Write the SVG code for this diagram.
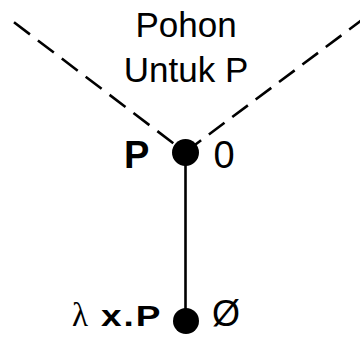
<svg xmlns="http://www.w3.org/2000/svg" width="360" height="342" viewBox="0 0 360 342">
  <style>
    .bg { fill: #ffffff; }
    .dash { fill: none; stroke: #000; stroke-width: 2.6; stroke-dasharray: 20 10; }
    .edge { fill: none; stroke: #000; stroke-width: 2.6; }
    .dot { fill: #000; }
    .lbl { font-family: "Liberation Sans", Arial, sans-serif; fill: #000; }
    .greek { font-family: "Liberation Serif", "Times New Roman", serif; fill: #000; }
    .b { font-weight: bold; }
  </style>
  <rect class="bg" x="0" y="0" width="360" height="342"/>

  <!-- title -->
  <g id="title" class="lbl" font-size="35" text-anchor="middle">
    <text x="186" y="37">Pohon</text>
    <text x="186" y="82">Untuk P</text>
  </g>

  <!-- connectors -->
  <g id="connectors">
    <path class="dash" d="M14 22.3 L185.5 152.5"/>
    <path class="dash" d="M185.5 152 L362 20" style="stroke-dasharray:19.5 9.7"/>
    <path class="edge" d="M185.5 152.5 L185.5 321"/>
  </g>

  <!-- root node -->
  <g id="node-root">
    <circle class="dot" cx="185.5" cy="152.5" r="13.5"/>
    <text class="lbl b" x="124" y="168" font-size="38">P</text>
    <text class="lbl" x="213.5" y="168" font-size="38">0</text>
  </g>

  <!-- leaf node -->
  <g id="node-leaf">
    <circle class="dot" cx="186" cy="321" r="13"/>
    <text class="greek" x="72" y="326" font-size="33">λ</text>
    <g transform="translate(0 326) scale(1 0.82)">
      <text class="lbl b" x="101" y="0" font-size="37" letter-spacing="2">x.P</text>
    </g>
    <text class="lbl" x="212" y="326" font-size="36">Ø</text>
  </g>
</svg>
